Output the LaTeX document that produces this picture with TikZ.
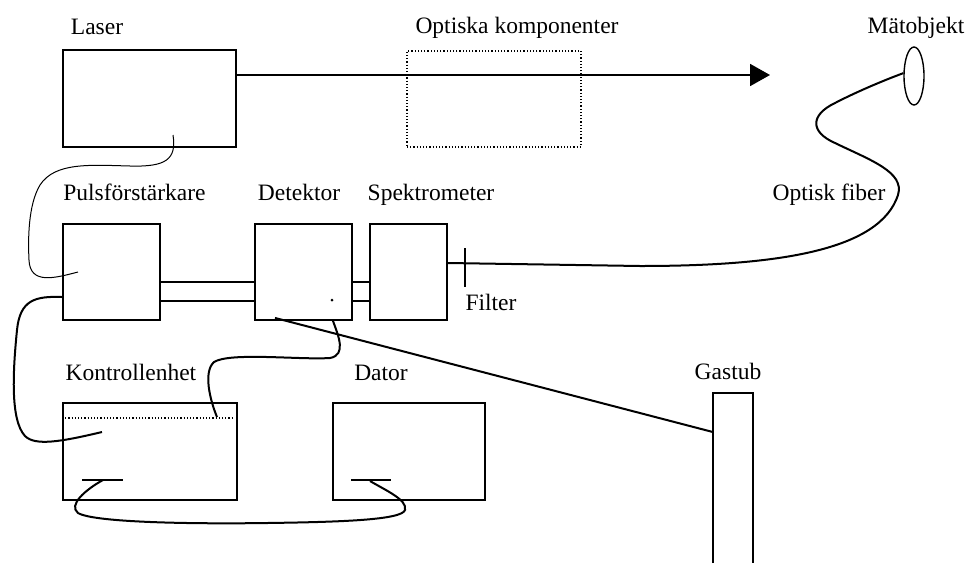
\documentclass[tikz,border=0pt]{standalone}
\usepackage{fontspec}
\setmainfont{Liberation Serif}
\usetikzlibrary{shapes.geometric,arrows.meta}
\begin{document}
\begin{tikzpicture}[x=1pt,y=-1pt,
  box/.style={draw, line width=1.9pt, rectangle, inner sep=0pt},
  dotbox/.style={draw, line width=1.2pt, dotted, rectangle, inner sep=0pt},
  lbl/.style={anchor=base, inner sep=0pt, font=\fontsize{23.5}{28}\selectfont},
  cable/.style={line width=2pt},
  thincable/.style={line width=1pt},
  link/.style={line width=1.4pt}]
\useasboundingbox (0,0) rectangle (968,563);

% boxes
\node[box, minimum width=173pt, minimum height=97pt] (laser) at (149.5,98.5) {};
\node[dotbox, minimum width=174pt, minimum height=96pt] (optik) at (494,99) {};
\node[draw, ellipse, line width=1.4pt, inner sep=0pt, minimum width=20pt, minimum height=58pt] (mato) at (914,76) {};
\node[box, minimum width=97pt, minimum height=96pt] (puls) at (111.5,272) {};
\node[box, minimum width=97pt, minimum height=96pt] (det) at (303.5,272) {};
\node[box, minimum width=77pt, minimum height=96pt] (spek) at (408.5,272) {};
\node[box, minimum width=174pt, minimum height=97pt] (kontroll) at (150,451.5) {};
\node[box, minimum width=152pt, minimum height=97pt] (dator) at (409,451.5) {};
\node[draw=none, minimum width=40pt, minimum height=170pt, inner sep=0pt] (gastub) at (733,478) {};
\draw[line width=1.9pt] (gastub.south west) |- (gastub.north east) -- (gastub.south east);

% labels
\node[lbl] (tlaser) at (97,34) {Laser};
\node[lbl] (toptik) at (517,33) {Optiska komponenter};
\node[lbl] (tmato) at (916,33) {Mätobjekt};
\node[lbl] (tpuls) at (134.5,200) {Pulsförstärkare};
\node[lbl] (tdet) at (299,200) {Detektor};
\node[lbl] (tspek) at (431,200) {Spektrometer};
\node[lbl] (tfiber) at (829,200) {Optisk fiber};
\node[lbl] (tfilter) at (491,310) {Filter};
\node[lbl] (tkontroll) at (131,380) {Kontrollenhet};
\node[lbl] (tdator) at (381,380) {Dator};
\node[lbl] (tgastub) at (728,379) {Gastub};

% laser beam
\coordinate (beamend) at (770,75);
\draw[line width=1.9pt, -{Triangle[length=20pt,width=22pt]}] ([yshift=23.5pt]laser.east) -- (beamend);

% optical fiber and filter
\coordinate (ftop) at (465,248);
\coordinate (fbot) at (465,287);
\draw[link] (ftop) -- (fbot);
\draw[cable] ([yshift=9pt]spek.east) -- (640,266)
  .. controls (780,266) and (880,250) .. (898,195)
  .. controls (905,172) and (870,160) .. (835,143)
  .. controls (810,132) and (810,115) .. (835,103)
  .. controls (860,90) and (890,78) .. (mato.165);

% double links
\draw[link] ([yshift=-10pt]puls.east) -- ([yshift=-10pt]det.west);
\draw[link] ([yshift=-29pt]puls.east) -- ([yshift=-29pt]det.west);
\draw[link] ([yshift=-10pt]det.east) -- ([yshift=-10pt]spek.west);
\draw[link] ([yshift=-29pt]det.east) -- ([yshift=-29pt]spek.west);

% speck in detector
\node[circle, fill, inner sep=0pt, minimum size=3pt] (speck) at (332,300) {};

% thin cable laser -> pulsforstarkare
\coordinate (lc1) at (173,135);
\coordinate (lc2) at (78,272);
\draw[thincable] (lc1) .. controls (177,160) and (165,167) .. (130,166)
  .. controls (90,165) and (55,162) .. (40,185)
  .. controls (28,205) and (28,240) .. (29,260)
  .. controls (30,285) and (55,278) .. (lc2);

% cable pulsforstarkare -> kontrollenhet
\coordinate (kc1) at (102,432);
\draw[cable] ([yshift=-25pt]puls.west) .. controls (35,296) and (20,300) .. (17,330)
  .. controls (13,370) and (10,420) .. (25,436)
  .. controls (35,446) and (60,442) .. (kc1);

% cable detektor -> kontrollenhet
\coordinate (kc2) at (217,417);
\draw[cable] ([xshift=29.5pt]det.south) .. controls (338,335) and (347,355) .. (330,358)
  .. controls (300,360) and (230,352) .. (214,362)
  .. controls (203,372) and (210,400) .. (kc2);

% cable detektor -> gastub
\draw[cable] ([xshift=-28.5pt,yshift=3pt]det.south) -- ([yshift=46pt]gastub.west);

% dotted line in kontrollenhet
\draw[dotted, line width=1.2pt] ([yshift=-16pt]kontroll.north west) -- ([xshift=-4pt,yshift=-16pt]kontroll.north east);

% connectors kontrollenhet - dator
\coordinate (ka) at (82,480);
\coordinate (kb) at (123,480);
\coordinate (da) at (351,480);
\coordinate (db) at (391,480);
\draw[link] (ka) -- (kb);
\draw[link] (da) -- (db);
\draw[cable] (103,480) .. controls (85,490) and (68,505) .. (78,513)
  .. controls (95,523) and (200,524) .. (267,523)
  .. controls (340,522) and (402,520) .. (405,510)
  .. controls (408,500) and (385,490) .. (370,481);
\end{tikzpicture}
\end{document}
